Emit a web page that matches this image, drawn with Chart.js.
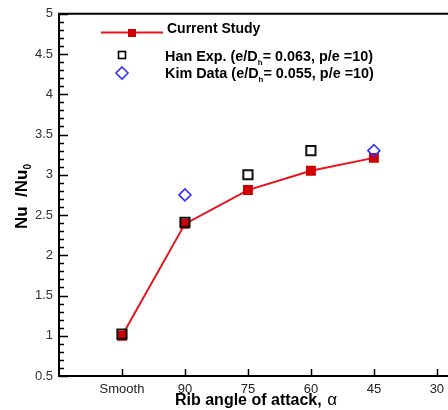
<!DOCTYPE html>
<html>
<head>
<meta charset="utf-8">
<script src="https://cdn.jsdelivr.net/npm/chart.js@4"></script>
<style>
html, body { margin: 0; padding: 0; background: #fff; overflow: hidden; }
</style>
</head>
<body>
<canvas id="chart" width="480" height="410"></canvas>
<script>
// x categories (index positions on a linear axis)
const xLabels = ['Smooth', '90', '75', '60', '45', '30'];
const yTicks = [0.5, 1, 1.5, 2, 2.5, 3, 3.5, 4, 4.5, 5];

const currentX = [0, 1, 2, 3, 4];
const currentY = [1.0, 2.39, 2.81, 3.05, 3.21];
const hanX = [0, 1, 2, 3];
const hanY = [1.02, 2.41, 3.0, 3.3];
const kimX = [1, 4];
const kimY = [2.75, 3.3];

const FONT = '"Liberation Sans", Arial, sans-serif';

function pts(xs, ys) {
    return xs.map((x, i) => ({ x: x, y: ys[i] }));
}

// frame, inside ticks, legend and axis titles
const decor = {
    id: 'decor',
    afterDraw(chart) {
        const ctx = chart.ctx;
        const a = chart.chartArea;
        const xs = chart.scales.x;
        const ys = chart.scales.y;
        ctx.save();
        ctx.strokeStyle = '#000';
        ctx.lineWidth = 2;
        ctx.beginPath();
        ctx.moveTo(a.right + 5, a.top);
        ctx.lineTo(a.left, a.top);
        ctx.lineTo(a.left, a.bottom);
        ctx.lineTo(a.right + 5, a.bottom);
        ctx.stroke();

        // y ticks: major every 0.5, minor every 0.1
        ctx.lineWidth = 1.5;
        ctx.beginPath();
        for (let i = 5; i <= 50; i++) {
            const py = Math.round(ys.getPixelForValue(i / 10)) + 0.5;
            const len = i % 5 === 0 ? 9 : 5;
            ctx.moveTo(a.left, py);
            ctx.lineTo(a.left + len, py);
        }
        // x ticks
        xLabels.forEach((lab, i) => {
            const px = Math.round(xs.getPixelForValue(i)) + 0.5;
            ctx.moveTo(px, a.bottom);
            ctx.lineTo(px, a.bottom - 7);
        });
        ctx.stroke();

        // legend
        const d0 = chart.data.datasets[0];
        ctx.strokeStyle = d0.borderColor;
        ctx.lineWidth = 2;
        ctx.beginPath();
        ctx.moveTo(101, 32.5);
        ctx.lineTo(163, 32.5);
        ctx.stroke();
        ctx.fillStyle = d0.pointBackgroundColor;
        ctx.fillRect(128, 29, 8, 8);

        ctx.strokeStyle = '#000';
        ctx.lineWidth = 1.6;
        ctx.strokeRect(118.5, 51.5, 7, 7);

        ctx.strokeStyle = '#3333ff';
        ctx.lineWidth = 1.6;
        ctx.beginPath();
        ctx.moveTo(122, 67);
        ctx.lineTo(128, 73);
        ctx.lineTo(122, 79);
        ctx.lineTo(116, 73);
        ctx.closePath();
        ctx.stroke();

        ctx.fillStyle = '#000';
        ctx.textBaseline = 'alphabetic';
        ctx.textAlign = 'left';
        ctx.font = 'bold 14px ' + FONT;
        ctx.fillText('Current Study', 167, 33);

        function subLine(pre, post, x, y) {
            ctx.font = 'bold 14.4px ' + FONT;
            ctx.fillText(pre, x, y);
            let w = ctx.measureText(pre).width;
            ctx.font = 'bold 8px ' + FONT;
            ctx.fillText('h', x + w, y + 4);
            w += ctx.measureText('h').width;
            ctx.font = 'bold 14.4px ' + FONT;
            ctx.fillText(post, x + w, y);
        }
        subLine('Han Exp. (e/D', '= 0.063, p/e =10)', 165, 61);
        subLine('Kim Data (e/D', '= 0.055, p/e =10)', 165, 78);

        // x title
        ctx.font = 'bold 16px ' + FONT;
        const t1 = 'Rib angle of attack, ';
        ctx.fillText(t1, 175, 405);
        const w1 = ctx.measureText(t1).width;
        ctx.font = '17px ' + FONT;
        ctx.fillText('\u03b1', 175 + w1 + 1, 405);

        // y title
        ctx.translate(27, 229);
        ctx.rotate(-Math.PI / 2);
        ctx.font = 'bold 17px ' + FONT;
        const t2 = 'Nu  /Nu';
        ctx.fillText(t2, 0, 0);
        const w2 = ctx.measureText(t2).width;
        ctx.font = 'bold 10px ' + FONT;
        ctx.fillText('0', w2, 4);
        ctx.restore();
    }
};

const chart = new Chart(document.getElementById('chart'), {
    type: 'scatter',
    data: {
        datasets: [
            {
                label: 'Current Study',
                data: pts(currentX, currentY),
                showLine: true,
                borderColor: '#e8141c',
                borderWidth: 2,
                pointStyle: 'rect',
                pointRadius: 7,
                pointBorderWidth: 0,
                pointBackgroundColor: '#d10000',
                pointBorderColor: '#d10000',
                order: 2
            },
            {
                label: 'Han Exp.',
                data: pts(hanX, hanY),
                showLine: false,
                pointStyle: 'rect',
                pointRadius: 6.5,
                pointBorderWidth: 2,
                pointBackgroundColor: 'rgba(0,0,0,0)',
                pointBorderColor: '#111',
                order: 1
            },
            {
                label: 'Kim Data',
                data: pts(kimX, kimY),
                showLine: false,
                pointStyle: 'rectRot',
                pointRadius: 6,
                pointBorderWidth: 1.6,
                pointBackgroundColor: 'rgba(0,0,0,0)',
                pointBorderColor: '#3333ff',
                order: 0
            }
        ]
    },
    options: {
        responsive: false,
        animation: false,
        layout: { padding: { top: 13, left: 0, right: 0, bottom: 0 } },
        plugins: { legend: { display: false }, tooltip: { enabled: false } },
        scales: {
            x: {
                type: 'linear',
                min: -1,
                max: 5.55,
                afterFit(scale) { scale.height = 34; },
                afterBuildTicks(scale) { scale.ticks = xLabels.map((l, i) => ({ value: i })); },
                grid: { display: false, drawTicks: false },
                border: { display: false },
                ticks: {
                    padding: 6,
                    color: '#222',
                    font: { family: FONT, size: 13 },
                    maxRotation: 0,
                    autoSkip: false,
                    callback: v => xLabels[v]
                }
            },
            y: {
                min: 0.5,
                max: 5,
                afterFit(scale) { scale.width = 59; },
                afterBuildTicks(scale) { scale.ticks = yTicks.map(v => ({ value: v })); },
                grid: { display: false, drawTicks: false },
                border: { display: false },
                ticks: {
                    padding: 6,
                    color: '#333',
                    font: { family: FONT, size: 13 },
                    callback: v => String(v)
                }
            }
        }
    },
    plugins: [decor]
});
</script>
</body>
</html>
